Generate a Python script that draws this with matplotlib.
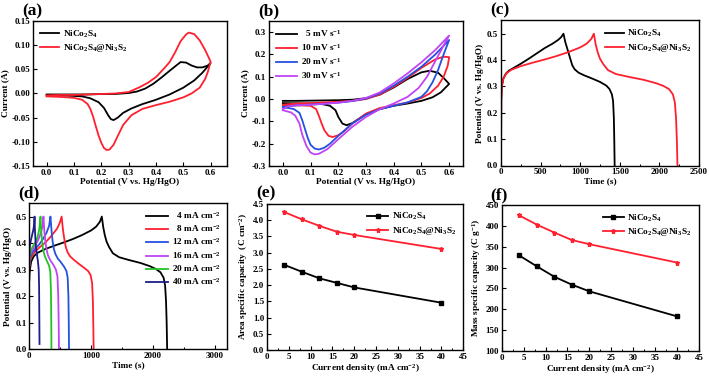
import matplotlib
matplotlib.use("Agg")
import matplotlib.pyplot as plt
from matplotlib.ticker import MultipleLocator, FormatStrFormatter

plt.rcParams['font.family'] = ['Liberation Serif', 'DejaVu Serif']
plt.rcParams['font.weight'] = 'bold'
plt.rcParams['axes.labelweight'] = 'bold'
plt.rcParams['mathtext.fontset'] = 'custom'
plt.rcParams['mathtext.rm'] = 'Liberation Serif:bold'
plt.rcParams['mathtext.it'] = 'Liberation Serif:bold:italic'
plt.rcParams['mathtext.bf'] = 'Liberation Serif:bold'
plt.rcParams['mathtext.default'] = 'rm'

# ---------------- data ----------------
# (a) CV comparison
a_nico_anodic_E = [0.0, 0.05, 0.1, 0.15, 0.2, 0.25, 0.3, 0.33, 0.36, 0.39, 0.42, 0.45, 0.47, 0.49, 0.51, 0.53, 0.55, 0.57, 0.59, 0.6]
a_nico_anodic_I = [-0.002, -0.002, -0.002, -0.002, -0.001, -0.001, 0.001, 0.004, 0.010, 0.020, 0.033, 0.047, 0.056, 0.065, 0.064, 0.058, 0.054, 0.054, 0.058, 0.063]
a_nico_cathodic_E = [0.6, 0.57, 0.54, 0.5, 0.45, 0.4, 0.35, 0.31, 0.28, 0.26, 0.245, 0.235, 0.225, 0.21, 0.19, 0.16, 0.13, 0.1, 0.05, 0.0]
a_nico_cathodic_I = [0.063, 0.043, 0.027, 0.012, -0.002, -0.013, -0.022, -0.031, -0.040, -0.050, -0.055, -0.053, -0.045, -0.030, -0.018, -0.010, -0.006, -0.005, -0.004, -0.004]
a_comp_anodic_E = [0.0, 0.05, 0.1, 0.15, 0.2, 0.25, 0.3, 0.34, 0.37, 0.4, 0.43, 0.45, 0.47, 0.49, 0.51, 0.52, 0.54, 0.56, 0.58, 0.59, 0.6]
a_comp_anodic_I = [-0.004, -0.003, -0.003, -0.002, -0.001, 0.0, 0.003, 0.013, 0.022, 0.034, 0.052, 0.065, 0.085, 0.108, 0.122, 0.126, 0.123, 0.110, 0.090, 0.078, 0.066]
a_comp_cathodic_E = [0.6, 0.59, 0.58, 0.56, 0.53, 0.5, 0.45, 0.4, 0.35, 0.31, 0.28, 0.26, 0.245, 0.23, 0.22, 0.21, 0.2, 0.19, 0.18, 0.17, 0.16, 0.15, 0.13, 0.1, 0.05, 0.0]
a_comp_cathodic_I = [0.066, 0.045, 0.030, 0.012, 0.0, -0.008, -0.017, -0.024, -0.032, -0.045, -0.065, -0.088, -0.106, -0.116, -0.117, -0.113, -0.102, -0.087, -0.068, -0.048, -0.032, -0.022, -0.013, -0.009, -0.007, -0.006]

# (b) CV at different scan rates
b_labels = ['  5 mV s$^{-1}$', '10 mV s$^{-1}$', '20 mV s$^{-1}$', '30 mV s$^{-1}$']
b_5_E = [0.0, 0.05, 0.1, 0.15, 0.2, 0.25, 0.3, 0.35, 0.4, 0.45, 0.5, 0.53, 0.56, 0.58, 0.6,
         0.57, 0.54, 0.5, 0.45, 0.4, 0.35, 0.3, 0.27, 0.25, 0.23, 0.215, 0.2, 0.19, 0.17, 0.14, 0.1, 0.05, 0.0]
b_5_I = [-0.008, -0.008, -0.007, -0.006, -0.005, -0.003, 0.004, 0.02, 0.052, 0.09, 0.12, 0.127, 0.118, 0.095, 0.068,
         0.03, 0.008, -0.008, -0.02, -0.03, -0.045, -0.068, -0.092, -0.108, -0.117, -0.11, -0.08, -0.05, -0.03, -0.022, -0.02, -0.019, -0.018]
b_10_E = [0.0, 0.05, 0.1, 0.15, 0.2, 0.25, 0.3, 0.35, 0.4, 0.45, 0.5, 0.55, 0.58, 0.6,
          0.595, 0.58, 0.56, 0.53, 0.5, 0.45, 0.4, 0.35, 0.3, 0.25, 0.22, 0.2, 0.18, 0.165, 0.15, 0.14, 0.13, 0.12, 0.1, 0.05, 0.0]
b_10_I = [-0.025, -0.02, -0.018, -0.015, -0.012, -0.008, 0.0, 0.02, 0.055, 0.095, 0.14, 0.178, 0.19, 0.188,
          0.15, 0.1, 0.06, 0.025, 0.005, -0.015, -0.028, -0.04, -0.065, -0.11, -0.145, -0.162, -0.17, -0.165, -0.14, -0.11, -0.075, -0.045, -0.03, -0.028, -0.028]
b_20_E = [0.0, 0.05, 0.1, 0.15, 0.2, 0.25, 0.3, 0.35, 0.4, 0.45, 0.5, 0.55, 0.6,
          0.58, 0.56, 0.54, 0.52, 0.5, 0.45, 0.4, 0.35, 0.3, 0.25, 0.2, 0.17, 0.15, 0.13, 0.115, 0.1, 0.09, 0.08, 0.07, 0.06, 0.04, 0.02, 0.0]
b_20_I = [-0.035, -0.028, -0.025, -0.021, -0.016, -0.009, 0.002, 0.025, 0.06, 0.1, 0.145, 0.2, 0.265,
          0.2, 0.13, 0.075, 0.035, 0.01, -0.015, -0.03, -0.045, -0.07, -0.11, -0.165, -0.2, -0.218, -0.226, -0.222, -0.205, -0.175, -0.135, -0.095, -0.062, -0.045, -0.04, -0.038]
b_30_E = [0.0, 0.02, 0.05, 0.1, 0.15, 0.2, 0.25, 0.3, 0.35, 0.4, 0.45, 0.5, 0.55, 0.6,
          0.58, 0.55, 0.52, 0.49, 0.45, 0.4, 0.35, 0.3, 0.25, 0.2, 0.16, 0.13, 0.115, 0.1, 0.085, 0.07, 0.06, 0.045, 0.03, 0.0]
b_30_I = [-0.045, -0.032, -0.028, -0.025, -0.021, -0.016, -0.008, 0.005, 0.03, 0.07, 0.115, 0.165, 0.22, 0.285,
          0.24, 0.17, 0.1, 0.05, 0.01, -0.02, -0.045, -0.08, -0.125, -0.18, -0.225, -0.245, -0.248, -0.24, -0.21, -0.16, -0.11, -0.075, -0.06, -0.05]

# (c) GCD comparison
c_nico_t = [0, 3, 10, 30, 60, 100, 170, 250, 350, 450, 550, 650, 720, 760, 789, 810, 840, 870, 900, 930, 980, 1050, 1150, 1250, 1330, 1370, 1400, 1415, 1425, 1430, 1435]
c_nico_V = [0, 0.25, 0.30, 0.33, 0.348, 0.36, 0.372, 0.386, 0.405, 0.425, 0.445, 0.462, 0.476, 0.487, 0.5, 0.47, 0.44, 0.41, 0.38, 0.365, 0.352, 0.342, 0.33, 0.317, 0.303, 0.29, 0.27, 0.245, 0.18, 0.1, 0.0]
c_comp_t = [0, 3, 10, 30, 70, 130, 250, 400, 550, 700, 850, 1000, 1080, 1140, 1172, 1195, 1220, 1250, 1290, 1350, 1450, 1600, 1800, 1950, 2050, 2120, 2170, 2195, 2210, 2220, 2228]
c_comp_V = [0, 0.25, 0.30, 0.33, 0.35, 0.363, 0.377, 0.39, 0.402, 0.415, 0.43, 0.448, 0.462, 0.48, 0.5, 0.46, 0.43, 0.405, 0.385, 0.362, 0.347, 0.337, 0.325, 0.313, 0.302, 0.29, 0.27, 0.24, 0.18, 0.1, 0.0]

# (d) GCD at different current densities
d_labels = ['  4 mA cm$^{-2}$', '  8 mA cm$^{-2}$', '12 mA cm$^{-2}$', '16 mA cm$^{-2}$', '20 mA cm$^{-2}$', '40 mA cm$^{-2}$']
d_4_t = [0, 3, 10, 30, 70, 130, 250, 400, 550, 700, 850, 1000, 1080, 1140, 1172, 1195, 1220, 1250, 1290, 1350, 1450, 1600, 1800, 1950, 2050, 2120, 2170, 2195, 2210, 2220, 2228]
d_4_V = [0.26, 0.28, 0.30, 0.33, 0.35, 0.363, 0.377, 0.39, 0.402, 0.415, 0.43, 0.448, 0.462, 0.48, 0.5, 0.46, 0.43, 0.405, 0.385, 0.362, 0.347, 0.337, 0.325, 0.313, 0.302, 0.29, 0.27, 0.24, 0.18, 0.1, 0.0]
d_8_t = [0, 5, 20, 50, 100, 170, 250, 330, 400, 450, 490, 523, 535, 550, 570, 590, 620, 660, 720, 800, 880, 950, 990, 1015, 1028, 1035, 1040]
d_8_V = [0.30, 0.32, 0.34, 0.355, 0.37, 0.385, 0.40, 0.42, 0.44, 0.455, 0.475, 0.5, 0.47, 0.44, 0.41, 0.385, 0.365, 0.35, 0.337, 0.322, 0.308, 0.295, 0.28, 0.25, 0.18, 0.08, 0.0]
d_12_t = [0, 5, 20, 50, 100, 160, 220, 280, 320, 342, 350, 360, 375, 395, 420, 460, 510, 560, 600, 620, 632, 638, 642]
d_12_V = [0.31, 0.33, 0.35, 0.365, 0.38, 0.395, 0.415, 0.44, 0.465, 0.5, 0.475, 0.445, 0.41, 0.38, 0.36, 0.342, 0.328, 0.312, 0.295, 0.27, 0.2, 0.1, 0.0]
d_16_t = [0, 5, 20, 50, 90, 140, 190, 215, 229, 236, 245, 258, 275, 300, 340, 390, 430, 455, 468, 475, 480]
d_16_V = [0.32, 0.34, 0.36, 0.375, 0.39, 0.41, 0.44, 0.465, 0.5, 0.47, 0.44, 0.41, 0.38, 0.355, 0.335, 0.318, 0.3, 0.275, 0.2, 0.1, 0.0]
d_20_t = [0, 5, 20, 50, 90, 130, 160, 181, 187, 195, 205, 220, 245, 280, 320, 340, 350, 355, 358]
d_20_V = [0.33, 0.35, 0.37, 0.385, 0.40, 0.42, 0.45, 0.5, 0.47, 0.44, 0.41, 0.38, 0.355, 0.335, 0.315, 0.29, 0.22, 0.1, 0.0]
d_40_t = [0, 3, 10, 25, 45, 65, 78, 85, 88, 93, 100, 110, 125, 140, 152, 158, 162, 165]
d_40_V = [0.35, 0.37, 0.39, 0.41, 0.43, 0.45, 0.47, 0.5, 0.47, 0.44, 0.41, 0.38, 0.355, 0.33, 0.3, 0.24, 0.13, 0.02]

# (e), (f) capacities
current_density = [4, 8, 12, 16, 20, 40]
area_nico = [2.62, 2.41, 2.21, 2.07, 1.93, 1.46]
area_comp = [4.24, 4.02, 3.82, 3.64, 3.54, 3.11]
mass_nico = [329, 303, 278, 259, 243, 183]
mass_comp = [425, 403, 384, 366, 356, 312]

lab_nico = 'NiCo$_2$S$_4$'
lab_comp = 'NiCo$_2$S$_4$@Ni$_3$S$_2$'

BLACK = '#000000'
RED = '#ff1f2f'
BLUE = '#2550e0'
PURPLE = '#c044f5'
GREEN = '#22c422'
NAVY = '#1c1f8a'

W, H = 709, 376
fig = plt.figure(figsize=(W / 100, H / 100), dpi=100)

def make_ax(l, r, t, b):
    return fig.add_axes([l / W, 1 - b / H, (r - l) / W, (b - t) / H])

ax_a = make_ax(33, 227, 21, 166)
ax_b = make_ax(269, 463, 21, 166)
ax_c = make_ax(501, 699, 20.5, 165.5)
ax_d = make_ax(29.3, 227.3, 203.3, 349.3)
ax_e = make_ax(267, 463.3, 203.7, 350.3)
ax_f = make_ax(501.7, 699, 205, 351)

TFS = 6.5
LFS = 6.7
LW = 1.3

def style(ax):
    for s in ax.spines.values():
        s.set_linewidth(1.0)
    ax.tick_params(direction='in', length=3, width=0.8, labelsize=TFS, pad=2)
    ax.tick_params(which='minor', direction='in', length=1.6, width=0.7)
    ax.tick_params(right=False, top=False)
    for lbl in ax.get_xticklabels() + ax.get_yticklabels():
        lbl.set_fontweight('bold')

def panel_label(ax, txt):
    bb = ax.get_position()
    fig.text(bb.x0 - 11 / W, bb.y1 + 2 / H, txt, fontsize=12.5, fontweight='bold', ha='left', va='bottom')

# (a)
ax_a.plot(a_nico_anodic_E + a_nico_cathodic_E, a_nico_anodic_I + a_nico_cathodic_I, color=BLACK, lw=LW, label=lab_nico)
ax_a.plot(a_comp_anodic_E + a_comp_cathodic_E, a_comp_anodic_I + a_comp_cathodic_I, color=RED, lw=LW, label=lab_comp)
ax_a.set_xlim(-0.05, 0.66)
ax_a.set_ylim(-0.15, 0.15)
ax_a.xaxis.set_major_locator(MultipleLocator(0.1))
ax_a.xaxis.set_major_formatter(FormatStrFormatter('%.1f'))
ax_a.yaxis.set_major_locator(MultipleLocator(0.05))
ax_a.yaxis.set_major_formatter(FormatStrFormatter('%.2f'))
ax_a.set_xlabel('Potential (V vs. Hg/HgO)', fontsize=LFS, labelpad=1)
ax_a.set_ylabel('Current (A)', fontsize=LFS, labelpad=2)
ax_a.legend(loc='upper left', frameon=False, fontsize=LFS, handlelength=2.0, borderaxespad=0.4, labelspacing=0.3, handletextpad=0.4)

# (b)
for E, I, c, lab in [(b_5_E, b_5_I, BLACK, b_labels[0]), (b_10_E, b_10_I, RED, b_labels[1]),
                     (b_20_E, b_20_I, BLUE, b_labels[2]), (b_30_E, b_30_I, PURPLE, b_labels[3])]:
    ax_b.plot(E, I, color=c, lw=LW, label=lab)
ax_b.set_xlim(-0.05, 0.65)
ax_b.set_ylim(-0.3, 0.35)
ax_b.xaxis.set_major_locator(MultipleLocator(0.1))
ax_b.xaxis.set_major_formatter(FormatStrFormatter('%.1f'))
ax_b.yaxis.set_major_locator(MultipleLocator(0.1))
ax_b.yaxis.set_major_formatter(FormatStrFormatter('%.1f'))
ax_b.set_xlabel('Potential (V vs. Hg/HgO)', fontsize=LFS, labelpad=1)
ax_b.set_ylabel('Current (A)', fontsize=LFS, labelpad=2)
ax_b.legend(loc='upper left', frameon=False, fontsize=LFS, handlelength=2.2, borderaxespad=0.4, labelspacing=0.3, handletextpad=0.4)

# (c)
ax_c.plot(c_nico_t, c_nico_V, color=BLACK, lw=LW, label=lab_nico)
ax_c.plot(c_comp_t, c_comp_V, color=RED, lw=LW, label=lab_comp)
ax_c.set_xlim(0, 2500)
ax_c.set_ylim(0, 0.55)
ax_c.xaxis.set_major_locator(MultipleLocator(500))
ax_c.xaxis.set_minor_locator(MultipleLocator(250))
ax_c.yaxis.set_major_locator(MultipleLocator(0.1))
ax_c.yaxis.set_major_formatter(FormatStrFormatter('%.1f'))
ax_c.set_xlabel('Time (s)', fontsize=LFS, labelpad=1)
ax_c.set_ylabel('Potential (V vs. Hg/HgO)', fontsize=LFS, labelpad=2)
ax_c.legend(loc='upper right', frameon=False, fontsize=LFS, handlelength=2.0, borderaxespad=0.4, labelspacing=0.3, handletextpad=0.4)

# (d)
for t, V, c, lab in [(d_4_t, d_4_V, BLACK, d_labels[0]), (d_8_t, d_8_V, RED, d_labels[1]),
                     (d_12_t, d_12_V, BLUE, d_labels[2]), (d_16_t, d_16_V, PURPLE, d_labels[3]),
                     (d_20_t, d_20_V, GREEN, d_labels[4]), (d_40_t, d_40_V, NAVY, d_labels[5])]:
    ax_d.plot(t, V, color=c, lw=LW, label=lab)
ax_d.set_xlim(0, 3200)
ax_d.set_ylim(0, 0.55)
ax_d.xaxis.set_major_locator(MultipleLocator(1000))
ax_d.xaxis.set_minor_locator(MultipleLocator(500))
ax_d.yaxis.set_major_locator(MultipleLocator(0.1))
ax_d.yaxis.set_major_formatter(FormatStrFormatter('%.1f'))
ax_d.set_xlabel('Time (s)', fontsize=LFS, labelpad=1)
ax_d.set_ylabel('Potential (V vs. Hg/HgO)', fontsize=LFS, labelpad=2)
ax_d.legend(loc='upper right', frameon=False, fontsize=LFS, handlelength=2.4, borderaxespad=0.3, labelspacing=0.25, handletextpad=0.4)

# (e)
ax_e.plot(current_density, area_nico, color=BLACK, lw=LW, marker='s', ms=2.8, label=lab_nico)
ax_e.plot(current_density, area_comp, color=RED, lw=LW, marker='*', ms=3.6, label=lab_comp)
ax_e.set_xlim(0, 45)
ax_e.set_ylim(0, 4.5)
ax_e.xaxis.set_major_locator(MultipleLocator(5))
ax_e.xaxis.set_minor_locator(MultipleLocator(2.5))
ax_e.yaxis.set_major_locator(MultipleLocator(0.5))
ax_e.yaxis.set_major_formatter(FormatStrFormatter('%.1f'))
ax_e.set_xlabel('Current density (mA cm$^{-2}$)', fontsize=LFS, labelpad=1)
ax_e.set_ylabel('Area specific capacity  (C cm$^{-2}$)', fontsize=LFS, labelpad=2)
ax_e.legend(loc='upper right', frameon=False, fontsize=LFS, handlelength=2.2, borderaxespad=0.4, labelspacing=0.3, handletextpad=0.4)

# (f)
ax_f.plot(current_density, mass_nico, color=BLACK, lw=LW, marker='s', ms=2.8, label=lab_nico)
ax_f.plot(current_density, mass_comp, color=RED, lw=LW, marker='*', ms=3.6, label=lab_comp)
ax_f.set_xlim(0, 45)
ax_f.set_ylim(100, 450)
ax_f.xaxis.set_major_locator(MultipleLocator(5))
ax_f.xaxis.set_minor_locator(MultipleLocator(2.5))
ax_f.yaxis.set_major_locator(MultipleLocator(50))
ax_f.set_xlabel('Current density (mA cm$^{-2}$)', fontsize=LFS, labelpad=1)
ax_f.set_ylabel('Mass specific capacity (C g$^{-1}$)', fontsize=LFS, labelpad=2)
ax_f.legend(loc='upper right', frameon=False, fontsize=LFS, handlelength=2.2, borderaxespad=0.4, labelspacing=0.3, handletextpad=0.4)

for ax, lab in zip([ax_a, ax_b, ax_c, ax_d, ax_e, ax_f], ['(a)', '(b)', '(c)', '(d)', '(e)', '(f)']):
    style(ax)
    panel_label(ax, lab)

fig.savefig('out.png', dpi=100, facecolor='white')
